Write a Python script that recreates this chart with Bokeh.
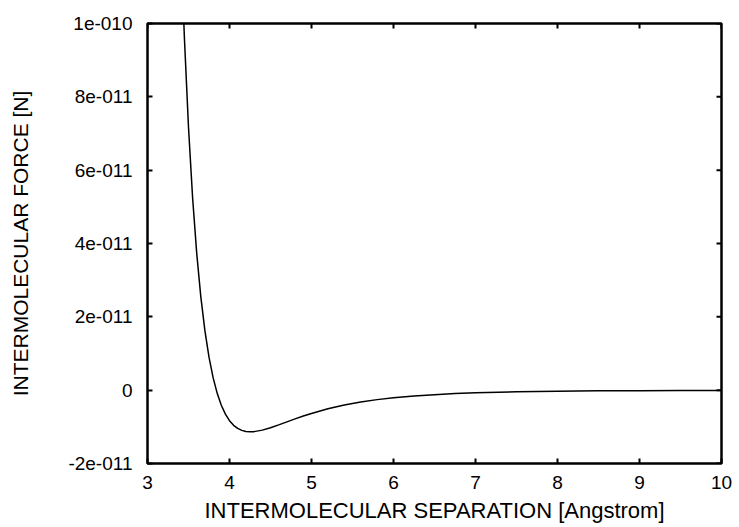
import math
from bokeh.plotting import figure
from bokeh.models import Range1d, LinearAxis, FixedTicker
from bokeh.embed import file_html
from bokeh.resources import INLINE

# separation in Angstrom, force in units of 1e-11 N
separation = [3.42, 3.45, 3.50, 3.55, 3.60, 3.65, 3.70, 3.75, 3.80, 3.85,
              3.90, 3.95, 4.00, 4.05, 4.10, 4.15, 4.20, 4.25, 4.30, 4.40,
              4.50, 4.60, 4.70, 4.80, 4.90, 5.00, 5.20, 5.40, 5.60, 5.80,
              6.00, 6.25, 6.50, 6.75, 7.00, 7.50, 8.00, 8.50, 9.00, 9.50, 10.0]
force_e11 = [11.38, 9.612, 7.171, 5.249, 3.737, 2.550, 1.622, 0.901, 0.342, -0.086,
             -0.411, -0.654, -0.831, -0.958, -1.043, -1.097, -1.126, -1.136, -1.131, -1.090,
             -1.024, -0.946, -0.864, -0.783, -0.706, -0.634, -0.508, -0.405, -0.323, -0.258,
             -0.207, -0.158, -0.122, -0.094, -0.0736, -0.0458, -0.0293, -0.0193, -0.0130, -0.0089, -0.0062]

x_ticks = [3, 4, 5, 6, 7, 8, 9, 10]
y_ticks = [-2, 0, 2, 4, 6, 8, 10]
y_tick_labels = ["-2e-011", "0", "2e-011", "4e-011", "6e-011", "8e-011", "1e-010"]

x_title = "INTERMOLECULAR SEPARATION [Angstrom]"
y_title = "INTERMOLECULAR FORCE [N]"

X_START, X_END = 3, 10
Y_START, Y_END = -2, 10

FONT = "Liberation Sans"

p = figure(width=739, height=527, x_range=Range1d(X_START, X_END), y_range=Range1d(Y_START, Y_END),
           output_backend="svg", toolbar_location=None,
           min_border_left=147, min_border_right=18, min_border_top=23, min_border_bottom=64,
           x_axis_type=None, y_axis_type=None)
p.xgrid.visible = False
p.ygrid.visible = False
p.outline_line_color = "black"
p.outline_line_width = 2.5
p.background_fill_color = "white"
p.border_fill_color = "white"

def style(ax, ticks):
    ax.ticker = FixedTicker(ticks=ticks)
    ax.axis_line_color = None
    ax.major_tick_in = 5
    ax.major_tick_out = 0
    ax.major_tick_line_width = 2
    ax.major_tick_line_color = "black"
    ax.minor_tick_line_color = None
    ax.major_label_text_font = FONT
    ax.major_label_text_font_size = "19px"
    ax.major_label_text_color = "black"
    ax.axis_label_text_font = FONT
    ax.axis_label_text_font_size = "21px"
    ax.axis_label_text_font_style = "normal"
    ax.axis_label_text_color = "black"

xb = LinearAxis(axis_label=x_title)
style(xb, x_ticks)
xb.axis_label_text_font_size = "22px"
xb.major_label_standoff = 12
xb.axis_label_standoff = 6
p.add_layout(xb, "below")

yl = LinearAxis(axis_label=y_title)
style(yl, y_ticks)
yl.major_label_overrides = {t: s for t, s in zip(y_ticks, y_tick_labels)}
yl.major_label_standoff = 15
yl.axis_label_standoff = 33
p.add_layout(yl, "left")

# mirrored inward ticks on the top and right edges of the frame
p.ray(x=x_ticks, y=[Y_END] * len(x_ticks), length=5, angle=-math.pi / 2,
      length_units="screen", line_color="black", line_width=2)
p.ray(x=[X_END] * len(y_ticks), y=y_ticks, length=5, angle=math.pi,
      length_units="screen", line_color="black", line_width=2)

p.line(separation, force_e11, line_color="black", line_width=1.5)

open("out.html", "w").write(file_html(p, INLINE))
